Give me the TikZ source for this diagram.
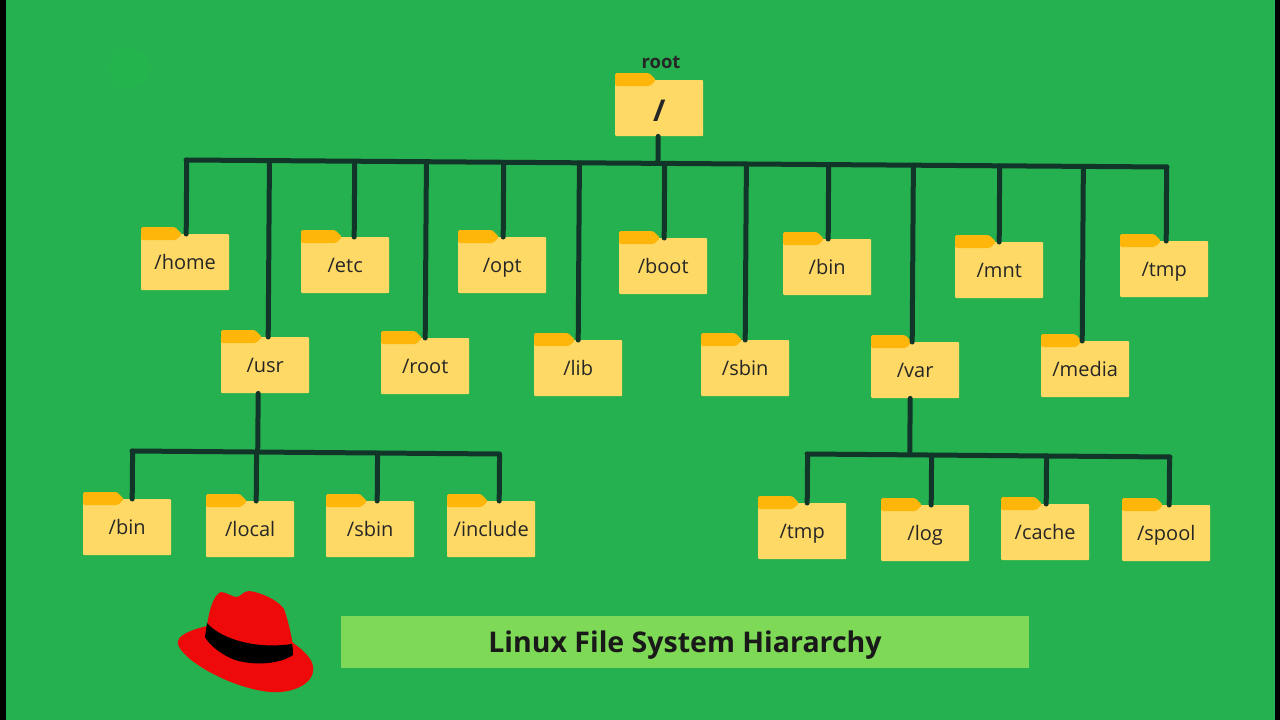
\documentclass[tikz,border=0pt]{standalone}
\usepackage{fontspec}
\setmainfont{Open Sans}
\usetikzlibrary{calc}
\definecolor{bggreen}{HTML}{25B14F}
\definecolor{spot}{HTML}{24B44D}
\definecolor{wirecol}{HTML}{12352A}
\definecolor{folderbody}{HTML}{FFD966}
\definecolor{foldertab}{HTML}{FFB60A}
\definecolor{titlegreen}{HTML}{7ED957}
\definecolor{hatred}{HTML}{EE0A0A}
\tikzset{
	wire/.style={draw=wirecol,line width=5pt,line cap=round},
	folderbox/.style={fill=folderbody,rounded corners=1pt,minimum width=88pt,minimum height=56pt,inner sep=0pt,
		text=black!85,text height=19pt,text depth=4pt,font=\fontsize{20}{20}\selectfont},
	foldertag/.style={fill=foldertab},
}
% #1 name, #2 left edge, #3 top edge of the body, #4 label
\newcommand{\folder}[4]{
	\node[folderbox,anchor=north west] (#1) at (#2,#3) {#4};
	\fill[foldertag,rounded corners=1.5pt] (#2,#3+6) -- (#2,#3-7) -- (#2+34,#3-7) -- (#2+41,#3) -- (#2+35,#3+6) -- cycle;
}
% #1 folder, #2 shift along the top edge, #3 bus
\newcommand{\drop}[3]{
	\draw[wire] ($(#1.north)+(#2,0)$) coordinate (p) -- ($(#3L)!(p)!(#3R)$);
}

\begin{document}
\begin{tikzpicture}[x=1pt,y=-1pt]

	\useasboundingbox (0,0) rectangle (1280,720);
	\fill[bggreen] (0,0) rectangle (1280,720);
	\fill[black] (0,0) rectangle (6,720); %left bar
	\fill[black] (1275,0) rectangle (1280,720); %right bar
	\fill[spot] (130,68) circle[radius=20];

	\folder{top}{615}{80}{\fontsize{30}{30}\selectfont\bfseries\raisebox{-6pt}{/}}
	\node[font=\fontsize{18.5}{18.5}\selectfont\bfseries,text=black!85] (rootlabel) at (661,62) {root};

	\folder{home}{141}{234}{/home}
	\folder{etc}{301}{237}{/etc}
	\folder{opt}{458}{237}{/opt}
	\folder{boot}{619}{238}{/boot}
	\folder{bin}{783}{239}{/bin}
	\folder{mnt}{955}{242}{/mnt}
	\folder{tmp}{1120}{241}{/tmp}

	\folder{usr}{221}{337}{/usr}
	\folder{rootdir}{381}{338}{/root}
	\folder{lib}{534}{340}{/lib}
	\folder{sbin}{701}{340}{/sbin}
	\folder{var}{871}{342}{/var}
	\folder{media}{1041}{341}{/media}

	\folder{usrbin}{83}{499}{/bin}
	\folder{local}{206}{501}{/local}
	\folder{usrsbin}{326}{501}{/sbin}
	\folder{include}{447}{501}{/include}

	\folder{vartmp}{758}{503}{/tmp}
	\folder{log}{881}{505}{/log}
	\folder{cache}{1001}{504}{/cache}
	\folder{spool}{1122}{505}{/spool}

	% main bus
	\coordinate (mainL) at (186,160);
	\coordinate (mainR) at (1167,167);
	\draw[wire] (mainL) -- (mainR);
	\draw[wire] ($(top.south)+(-1,0)$) coordinate (p) -- ($(mainL)!(p)!(mainR)$);
	\drop{home}{1}{main}
	\drop{usr}{3}{main}
	\drop{etc}{9}{main}
	\drop{rootdir}{0}{main}
	\drop{opt}{1}{main}
	\drop{lib}{0}{main}
	\drop{boot}{1}{main}
	\drop{sbin}{0}{main}
	\drop{bin}{1}{main}
	\drop{var}{-3}{main}
	\drop{mnt}{0}{main}
	\drop{media}{-3}{main}
	\drop{tmp}{2}{main}

	% /usr bus
	\coordinate (usrL) at (132,451);
	\coordinate (usrR) at (499,454);
	\draw[wire] (usrL) -- (usrR);
	\draw[wire] ($(usr.south)+(-7,0)$) coordinate (p) -- ($(usrL)!(p)!(usrR)$);
	\drop{usrbin}{5}{usr}
	\drop{local}{6}{usr}
	\drop{usrsbin}{7}{usr}
	\drop{include}{8}{usr}

	% /var bus
	\coordinate (varL) at (807,454);
	\coordinate (varR) at (1170,457);
	\draw[wire] (varL) -- (varR);
	\draw[wire] ($(var.south)+(-5,0)$) coordinate (p) -- ($(varL)!(p)!(varR)$);
	\drop{vartmp}{5}{var}
	\drop{log}{6}{var}
	\drop{cache}{1}{var}
	\drop{spool}{3}{var}

	% title
	\node[fill=titlegreen,minimum width=688pt,minimum height=52pt,inner sep=0pt,text height=26pt,text depth=6pt,
		font=\fontsize{28.5}{28.5}\selectfont\bfseries,text=black!90] (title) at (685,642) {Linux File System Hiararchy};

	% hat
	\fill[hatred] (207,626) .. controls (190,630) and (176,636) .. (178,644) .. controls (182,660) and (230,688) .. (270,692) .. controls (295,694) and (316,682) .. (313,666) .. controls (311,656) and (300,648) .. (292,642) -- cycle;
	\fill[hatred] (207,625) .. controls (209,612) and (213,595) .. (221,592) .. controls (226,592) and (232,597) .. (237,597) .. controls (241,596) and (244,591) .. (249,591) .. controls (260,592) and (278,600) .. (284,609) .. controls (288,620) and (291,634) .. (293,645) -- (240,660) -- cycle;
	\fill[black] (207,623) .. controls (218,636) and (250,650) .. (292,644) .. controls (293,648) and (293,652) .. (293,655) .. controls (280,664) and (255,666) .. (235,660) .. controls (222,655) and (210,646) .. (205,637) -- cycle;

\end{tikzpicture}
\end{document}
